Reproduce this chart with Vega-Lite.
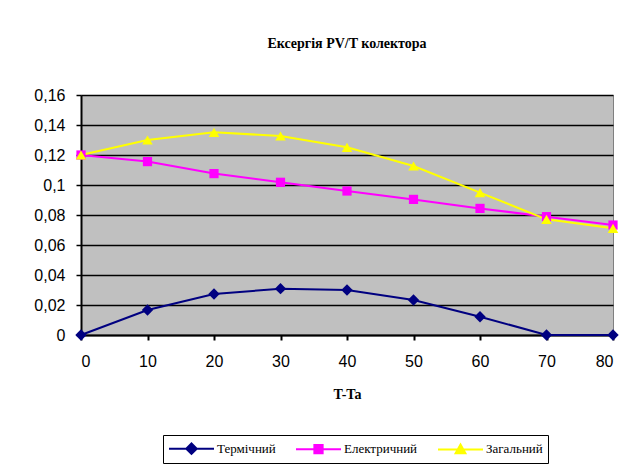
{
  "$schema": "https://vega.github.io/schema/vega-lite/v6.json",
  "width": 532,
  "height": 240,
  "autosize": {"type": "none"},
  "padding": {"left": 81, "top": 95, "right": 25, "bottom": 140},
  "background": "white",
  "title": {"text": "Ексергія PV/T колектора", "font": "Liberation Serif, serif", "fontSize": 14, "fontWeight": "bold", "color": "black", "offset": 36, "anchor": "middle"},
  "data": {"values": [
    {"t": 0, "s": "Термічний", "v": 0},
    {"t": 10, "s": "Термічний", "v": 0.0167},
    {"t": 20, "s": "Термічний", "v": 0.0273},
    {"t": 30, "s": "Термічний", "v": 0.0309},
    {"t": 40, "s": "Термічний", "v": 0.030},
    {"t": 50, "s": "Термічний", "v": 0.0233},
    {"t": 60, "s": "Термічний", "v": 0.0122},
    {"t": 70, "s": "Термічний", "v": 0},
    {"t": 80, "s": "Термічний", "v": 0},
    {"t": 0, "s": "Електричний", "v": 0.120},
    {"t": 10, "s": "Електричний", "v": 0.1156},
    {"t": 20, "s": "Електричний", "v": 0.1076},
    {"t": 30, "s": "Електричний", "v": 0.1018},
    {"t": 40, "s": "Електричний", "v": 0.096},
    {"t": 50, "s": "Електричний", "v": 0.0904},
    {"t": 60, "s": "Електричний", "v": 0.0844},
    {"t": 70, "s": "Електричний", "v": 0.0789},
    {"t": 80, "s": "Електричний", "v": 0.0733},
    {"t": 0, "s": "Загальний", "v": 0.120},
    {"t": 10, "s": "Загальний", "v": 0.130},
    {"t": 20, "s": "Загальний", "v": 0.1351},
    {"t": 30, "s": "Загальний", "v": 0.1327},
    {"t": 40, "s": "Загальний", "v": 0.1251},
    {"t": 50, "s": "Загальний", "v": 0.1127},
    {"t": 60, "s": "Загальний", "v": 0.0949},
    {"t": 70, "s": "Загальний", "v": 0.0771},
    {"t": 80, "s": "Загальний", "v": 0.0711}
  ]},
  "encoding": {
    "x": {"field": "t", "type": "quantitative", "title": "T-Ta",
      "scale": {"domain": [0, 80], "nice": false},
      "axis": {"values": [0, 10, 20, 30, 40, 50, 60, 70, 80], "grid": false, "domainColor": "black", "domainWidth": 2, "tickColor": "black", "tickWidth": 2, "tickSize": 5,
        "labelFont": "Liberation Sans", "labelFontSize": 16, "labelColor": "black", "labelPadding": 13,
        "titleFont": "Liberation Serif, serif", "titleFontSize": 14, "titleFontWeight": "bold", "titleColor": "black", "titlePadding": 18}},
    "y": {"field": "v", "type": "quantitative", "title": null,
      "scale": {"domain": [0, 0.16], "nice": false},
      "axis": {"values": [0, 0.02, 0.04, 0.06, 0.08, 0.1, 0.12, 0.14, 0.16], "grid": true, "gridColor": "black", "gridWidth": 1.6, "domainColor": "black", "domainWidth": 2, "tickColor": "black", "tickWidth": 1.5, "tickSize": 5,
        "labelExpr": "replace(format(datum.value, '~g'), '.', ',')",
        "labelFont": "Liberation Sans", "labelFontSize": 16, "labelColor": "black", "labelPadding": 11}}
  },
  "layer": [
    {"mark": {"type": "line", "strokeWidth": 2},
      "encoding": {
        "color": {"field": "s", "type": "nominal",
          "scale": {"domain": ["Термічний", "Електричний", "Загальний"], "range": ["#000080", "#FF00FF", "#FFFF00"]},
          "legend": {"title": null, "orient": "none", "legendX": 82, "legendY": 340, "direction": "horizontal",
            "strokeColor": "black", "fillColor": "white", "padding": 5, "cornerRadius": 0,
            "labelFont": "Liberation Serif, serif", "labelFontSize": 13, "labelColor": "black",
            "symbolSize": 225, "symbolStrokeWidth": 2, "columnPadding": 16, "labelOffset": 32,
            "encode": {"symbols": {"update": {
              "shape": {"signal": "datum.value === 'Термічний' ? 'M-1,0H5M2,-0.7L2.7,0L2,0.7L1.3,0Z' : datum.value === 'Електричний' ? 'M-1,0H5M1.45,-0.55H2.55V0.55H1.45Z' : 'M-1,0H5M2,-0.65L2.65,0.5H1.35Z'"},
              "fill": {"signal": "datum.value === 'Термічний' ? '#000080' : datum.value === 'Електричний' ? '#FF00FF' : '#FFFF00'"},
              "size": {"value": 225},
              "strokeWidth": {"value": 2},
              "opacity": {"value": 1}
            }}}}}
      }},
    {"transform": [{"filter": "datum.s === 'Термічний'"}],
      "mark": {"type": "point", "shape": "diamond", "size": 130, "filled": true, "opacity": 1, "color": "#000080"}},
    {"transform": [{"filter": "datum.s === 'Електричний'"}],
      "mark": {"type": "point", "shape": "square", "size": 85, "filled": true, "opacity": 1, "color": "#FF00FF"}},
    {"transform": [{"filter": "datum.s === 'Загальний'"}],
      "mark": {"type": "point", "shape": "triangle-up", "size": 110, "filled": true, "opacity": 1, "color": "#FFFF00"}}
  ],
  "config": {
    "view": {"fill": "#C0C0C0", "stroke": "#808080", "strokeWidth": 1}
  }
}
